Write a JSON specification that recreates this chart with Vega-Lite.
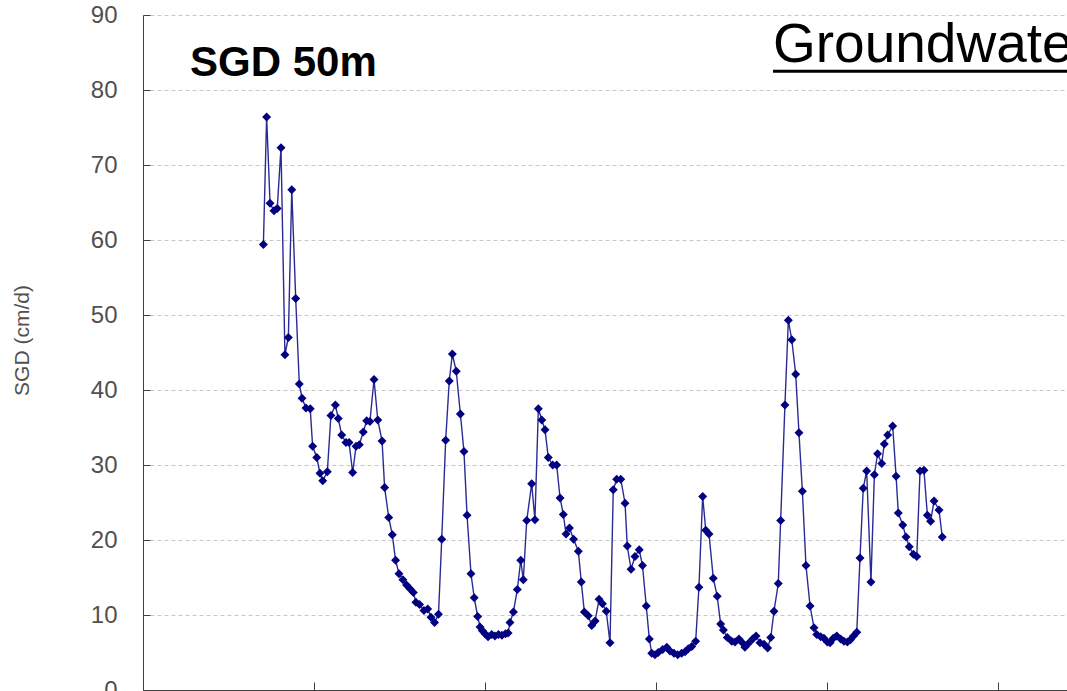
{
  "$schema": "https://vega.github.io/schema/vega-lite/v6.json",
  "width": 924,
  "height": 675,
  "autosize": {"type": "none"},
  "padding": {"left": 143, "top": 15, "right": 0, "bottom": 1},
  "background": "white",
  "config": {"view": {"stroke": null}},
  "datasets": {
    "sgd": [
      {"t":0.704,"sgd":59.4},{"t":0.723,"sgd":76.4},{"t":0.743,"sgd":64.9},{"t":0.766,"sgd":63.9},{"t":0.785,"sgd":64.2},
      {"t":0.807,"sgd":72.3},{"t":0.830,"sgd":44.7},{"t":0.850,"sgd":47.0},{"t":0.870,"sgd":66.7},{"t":0.893,"sgd":52.2},
      {"t":0.914,"sgd":40.8},{"t":0.930,"sgd":38.9},{"t":0.953,"sgd":37.6},{"t":0.978,"sgd":37.5},{"t":0.992,"sgd":32.5},
      {"t":1.016,"sgd":31.0},{"t":1.035,"sgd":28.9},{"t":1.051,"sgd":27.9},{"t":1.078,"sgd":29.1},{"t":1.099,"sgd":36.6},
      {"t":1.125,"sgd":38.0},{"t":1.142,"sgd":36.2},{"t":1.162,"sgd":34.0},{"t":1.187,"sgd":33.0},{"t":1.205,"sgd":33.0},
      {"t":1.226,"sgd":29.0},{"t":1.246,"sgd":32.5},{"t":1.265,"sgd":32.7},{"t":1.288,"sgd":34.4},{"t":1.308,"sgd":35.9},
      {"t":1.327,"sgd":35.8},{"t":1.351,"sgd":41.4},{"t":1.373,"sgd":36.0},{"t":1.398,"sgd":33.2},{"t":1.413,"sgd":27.0},
      {"t":1.437,"sgd":23.0},{"t":1.458,"sgd":20.7},{"t":1.477,"sgd":17.3},{"t":1.497,"sgd":15.5},{"t":1.520,"sgd":14.7},
      {"t":1.541,"sgd":14.0},{"t":1.561,"sgd":13.5},{"t":1.581,"sgd":13.0},{"t":1.596,"sgd":11.7},{"t":1.617,"sgd":11.4},
      {"t":1.643,"sgd":10.6},{"t":1.665,"sgd":10.8},{"t":1.684,"sgd":9.7},{"t":1.705,"sgd":9.0},{"t":1.728,"sgd":10.1},
      {"t":1.747,"sgd":20.1},{"t":1.770,"sgd":33.3},{"t":1.791,"sgd":41.2},{"t":1.809,"sgd":44.8},{"t":1.832,"sgd":42.5},
      {"t":1.856,"sgd":36.8},{"t":1.877,"sgd":31.8},{"t":1.895,"sgd":23.3},{"t":1.918,"sgd":15.5},{"t":1.937,"sgd":12.3},
      {"t":1.957,"sgd":9.8},{"t":1.971,"sgd":8.4},{"t":1.985,"sgd":7.9},{"t":2.000,"sgd":7.5},{"t":2.018,"sgd":7.1},
      {"t":2.039,"sgd":7.4},{"t":2.058,"sgd":7.2},{"t":2.079,"sgd":7.4},{"t":2.099,"sgd":7.3},{"t":2.120,"sgd":7.5},
      {"t":2.135,"sgd":7.6},{"t":2.146,"sgd":9.0},{"t":2.166,"sgd":10.4},{"t":2.189,"sgd":13.4},{"t":2.209,"sgd":17.3},
      {"t":2.224,"sgd":14.7},{"t":2.244,"sgd":22.6},{"t":2.273,"sgd":27.5},{"t":2.292,"sgd":22.7},{"t":2.312,"sgd":37.5},
      {"t":2.332,"sgd":36.0},{"t":2.351,"sgd":34.7},{"t":2.370,"sgd":31.0},{"t":2.396,"sgd":30.0},{"t":2.419,"sgd":30.0},
      {"t":2.439,"sgd":25.6},{"t":2.458,"sgd":23.4},{"t":2.474,"sgd":20.8},{"t":2.494,"sgd":21.6},{"t":2.518,"sgd":20.1},
      {"t":2.546,"sgd":18.5},{"t":2.563,"sgd":14.4},{"t":2.581,"sgd":10.4},{"t":2.604,"sgd":9.9},{"t":2.624,"sgd":8.6},
      {"t":2.644,"sgd":9.2},{"t":2.667,"sgd":12.1},{"t":2.687,"sgd":11.5},{"t":2.709,"sgd":10.5},{"t":2.731,"sgd":6.3},
      {"t":2.750,"sgd":26.7},{"t":2.770,"sgd":28.1},{"t":2.794,"sgd":28.1},{"t":2.819,"sgd":24.9},{"t":2.832,"sgd":19.2},
      {"t":2.854,"sgd":16.1},{"t":2.877,"sgd":17.8},{"t":2.902,"sgd":18.7},{"t":2.921,"sgd":16.6},{"t":2.943,"sgd":11.2},
      {"t":2.961,"sgd":6.8},{"t":2.975,"sgd":4.9},{"t":2.994,"sgd":4.7},{"t":3.013,"sgd":5.0},{"t":3.039,"sgd":5.4},
      {"t":3.063,"sgd":5.7},{"t":3.082,"sgd":5.2},{"t":3.105,"sgd":4.9},{"t":3.127,"sgd":4.7},{"t":3.150,"sgd":4.9},
      {"t":3.170,"sgd":5.1},{"t":3.189,"sgd":5.5},{"t":3.209,"sgd":5.8},{"t":3.232,"sgd":6.5},{"t":3.251,"sgd":13.7},
      {"t":3.273,"sgd":25.8},{"t":3.291,"sgd":21.3},{"t":3.310,"sgd":20.8},{"t":3.335,"sgd":14.9},{"t":3.358,"sgd":12.5},
      {"t":3.378,"sgd":8.8},{"t":3.394,"sgd":8.0},{"t":3.417,"sgd":7.0},{"t":3.443,"sgd":6.5},{"t":3.462,"sgd":6.4},
      {"t":3.485,"sgd":6.8},{"t":3.505,"sgd":6.3},{"t":3.520,"sgd":5.7},{"t":3.540,"sgd":6.2},{"t":3.565,"sgd":6.8},
      {"t":3.585,"sgd":7.2},{"t":3.608,"sgd":6.3},{"t":3.632,"sgd":6.1},{"t":3.653,"sgd":5.6},{"t":3.671,"sgd":7.0},
      {"t":3.690,"sgd":10.5},{"t":3.715,"sgd":14.2},{"t":3.729,"sgd":22.6},{"t":3.754,"sgd":38.0},{"t":3.774,"sgd":49.3},
      {"t":3.794,"sgd":46.7},{"t":3.817,"sgd":42.1},{"t":3.836,"sgd":34.3},{"t":3.856,"sgd":26.5},{"t":3.877,"sgd":16.6},
      {"t":3.901,"sgd":11.2},{"t":3.924,"sgd":8.3},{"t":3.940,"sgd":7.4},{"t":3.963,"sgd":7.1},{"t":3.982,"sgd":6.9},
      {"t":4.002,"sgd":6.4},{"t":4.018,"sgd":6.3},{"t":4.037,"sgd":6.9},{"t":4.057,"sgd":7.2},{"t":4.080,"sgd":6.8},
      {"t":4.099,"sgd":6.5},{"t":4.119,"sgd":6.4},{"t":4.137,"sgd":6.7},{"t":4.155,"sgd":7.2},{"t":4.174,"sgd":7.7},
      {"t":4.193,"sgd":17.6},{"t":4.212,"sgd":26.9},{"t":4.232,"sgd":29.2},{"t":4.257,"sgd":14.4},{"t":4.277,"sgd":28.7},
      {"t":4.296,"sgd":31.5},{"t":4.320,"sgd":30.2},{"t":4.335,"sgd":32.8},{"t":4.355,"sgd":34.0},{"t":4.384,"sgd":35.2},
      {"t":4.404,"sgd":28.5},{"t":4.417,"sgd":23.6},{"t":4.443,"sgd":22.0},{"t":4.462,"sgd":20.4},{"t":4.481,"sgd":19.1},
      {"t":4.505,"sgd":18.1},{"t":4.525,"sgd":17.8},{"t":4.544,"sgd":29.2},{"t":4.567,"sgd":29.3},{"t":4.587,"sgd":23.3},
      {"t":4.606,"sgd":22.5},{"t":4.626,"sgd":25.2},{"t":4.655,"sgd":24.0},{"t":4.674,"sgd":20.4}
    ],
    "notes": [
      {"label": "SGD 50m", "t": 0.275, "v": 81.9},
      {"label": "Groundwater", "t": 3.684, "t2": 5.4035, "v": 83.75, "v2": 82.5}
    ]
  },
  "layer": [
    {
      "mark": {"type": "rule", "color": "#a0a0a0", "strokeWidth": 1},
      "encoding": {"y": {"datum": 90, "type": "quantitative", "scale": {"domain": [0, 90], "nice": false}}}
    },
    {
      "data": {"name": "sgd"},
      "mark": {
        "type": "line",
        "color": "#2a2a95",
        "strokeWidth": 1.4,
        "point": {"shape": "diamond", "filled": true, "size": 80, "color": "#000080", "opacity": 1}
      },
      "encoding": {
        "x": {
          "field": "t",
          "type": "quantitative",
          "scale": {"domain": [0, 5.4035], "nice": false, "zero": false},
          "axis": {
            "values": [1, 2, 3, 4, 5],
            "labels": false,
            "title": null,
            "grid": false,
            "tickSize": -8,
            "tickColor": "#404040",
            "domainColor": "#404040",
            "tickWidth": 1,
            "domainWidth": 1
          }
        },
        "y": {
          "field": "sgd",
          "type": "quantitative",
          "scale": {"domain": [0, 90], "nice": false},
          "axis": {
            "values": [0, 10, 20, 30, 40, 50, 60, 70, 80, 90],
            "title": "SGD (cm/d)",
            "titleFont": "Liberation Sans",
            "titleFontSize": 21,
            "titleFontWeight": "normal",
            "titleColor": "#505050",
            "titlePadding": 58,
            "titleY": 325,
            "labelFont": "Liberation Sans",
            "labelFontSize": 24,
            "labelColor": "#505050",
            "labelPadding": 33,
            "tickSize": -7,
            "tickColor": "#404040",
            "domainColor": "#404040",
            "grid": true,
            "gridColor": "#c8c8c8",
            "gridDash": [4, 3],
            "gridWidth": 1
          }
        }
      }
    },
    {
      "data": {"name": "notes"},
      "transform": [{"filter": "datum.label === 'SGD 50m'"}],
      "mark": {"type": "text", "font": "Liberation Sans", "fontWeight": "bold", "fontSize": 42, "align": "left", "baseline": "alphabetic", "color": "black"},
      "encoding": {
        "x": {"field": "t", "type": "quantitative"},
        "y": {"field": "v", "type": "quantitative"},
        "text": {"field": "label"}
      }
    },
    {
      "data": {"name": "notes"},
      "transform": [{"filter": "datum.label === 'Groundwater'"}],
      "layer": [
        {
          "mark": {"type": "text", "font": "Liberation Sans", "fontSize": 55, "align": "left", "baseline": "alphabetic", "color": "black"},
          "encoding": {
            "x": {"field": "t", "type": "quantitative"},
            "y": {"field": "v", "type": "quantitative"},
            "text": {"field": "label"}
          }
        },
        {
          "mark": {"type": "rule", "color": "black", "strokeWidth": 3},
          "encoding": {
            "x": {"field": "t", "type": "quantitative"},
            "x2": {"field": "t2"},
            "y": {"field": "v2", "type": "quantitative"}
          }
        }
      ]
    }
  ]
}
